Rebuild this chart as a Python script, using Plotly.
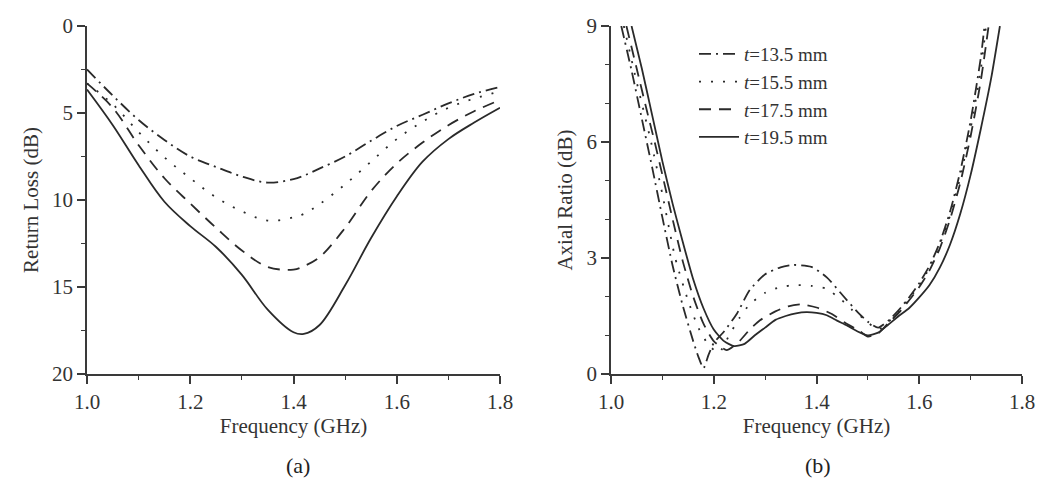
import plotly.graph_objects as go

# ---------------- data: (a) Return loss ----------------
freq_rl = [1.0, 1.05, 1.1, 1.15, 1.2, 1.25, 1.3, 1.35, 1.4, 1.42, 1.45, 1.5, 1.55, 1.6, 1.65, 1.7, 1.75, 1.8]
rl_135 = [2.5, 4.0, 5.4, 6.55, 7.5, 8.1, 8.65, 9.0, 8.8, 8.6, 8.2, 7.5, 6.6, 5.75, 5.1, 4.45, 3.9, 3.5]
rl_155 = [3.3, 4.5, 6.1, 7.55, 8.75, 9.85, 10.65, 11.18, 11.0, 10.8, 10.25, 9.1, 7.8, 6.5, 5.5, 4.7, 4.17, 3.75]
rl_175 = [3.3, 4.7, 6.85, 8.75, 10.2, 11.6, 12.9, 13.85, 14.0, 13.8, 13.3, 11.6, 9.5, 7.9, 6.7, 5.7, 4.9, 4.25]
rl_195 = [3.65, 5.7, 8.0, 10.1, 11.5, 12.7, 14.3, 16.3, 17.6, 17.7, 17.2, 14.9, 12.2, 9.8, 7.8, 6.5, 5.55, 4.7]

# ---------------- data: (b) Axial ratio ----------------
f_ar_135 = [1.02, 1.04, 1.06, 1.08, 1.10, 1.12, 1.14, 1.16, 1.17, 1.18, 1.19, 1.20, 1.22, 1.245, 1.27, 1.30,
            1.33, 1.355, 1.39, 1.42, 1.45, 1.48, 1.50, 1.52, 1.54, 1.56, 1.58, 1.60, 1.62, 1.64, 1.66, 1.68,
            1.70, 1.72, 1.727]
ar_135 = [9.0, 7.85, 6.6, 5.35, 4.05, 2.8, 1.75, 0.85, 0.45, 0.15, 0.5, 0.8, 1.1, 1.56, 2.17, 2.58,
          2.76, 2.82, 2.77, 2.5, 2.05, 1.6, 1.35, 1.2, 1.38, 1.65, 1.98, 2.35, 2.8, 3.4, 4.2, 5.25,
          6.55, 8.2, 9.0]

f_ar_155 = [1.025, 1.05, 1.078, 1.10, 1.125, 1.15, 1.17, 1.19, 1.21, 1.23, 1.25, 1.27, 1.30, 1.33, 1.36,
            1.39, 1.42, 1.45, 1.47, 1.49, 1.52, 1.54, 1.56, 1.58, 1.60, 1.62, 1.64, 1.66, 1.68, 1.70,
            1.72, 1.73]
ar_155 = [9.0, 7.55, 6.0, 4.65, 3.0, 1.9, 1.2, 0.75, 0.55, 1.0, 1.45, 1.8, 2.1, 2.25, 2.3,
          2.28, 2.2, 1.9, 1.65, 1.45, 1.15, 1.35, 1.62, 1.95, 2.3, 2.75, 3.35, 4.1, 5.1, 6.35,
          7.9, 9.0]

f_ar_175 = [1.03, 1.05, 1.07, 1.085, 1.10, 1.12, 1.14, 1.16, 1.18, 1.20, 1.225, 1.25, 1.27, 1.29, 1.32,
            1.345, 1.37, 1.40, 1.43, 1.455, 1.485, 1.50, 1.52, 1.54, 1.56, 1.58, 1.60, 1.62, 1.64,
            1.66, 1.68, 1.70, 1.72, 1.735]
ar_175 = [9.0, 7.9, 6.8, 6.0, 5.15, 4.0, 2.9, 2.0, 1.3, 0.85, 0.62, 0.85, 1.15, 1.39, 1.62,
          1.75, 1.8, 1.72, 1.55, 1.33, 1.1, 0.97, 1.05, 1.32, 1.58, 1.9, 2.25, 2.68, 3.25,
          4.0, 4.95, 6.15, 7.6, 9.0]

f_ar_195 = [1.04, 1.06, 1.08, 1.10, 1.12, 1.14, 1.16, 1.18, 1.20, 1.22, 1.24, 1.26, 1.28, 1.30, 1.32,
            1.34, 1.36, 1.38, 1.40, 1.42, 1.44, 1.46, 1.48, 1.50, 1.52, 1.54, 1.56, 1.58, 1.60,
            1.62, 1.64, 1.66, 1.68, 1.70, 1.72, 1.74, 1.757]
ar_195 = [9.0, 7.9, 6.7, 5.5, 4.4, 3.4, 2.45, 1.7, 1.15, 0.85, 0.72, 0.78, 1.0, 1.2, 1.4,
          1.5, 1.57, 1.6, 1.58, 1.52, 1.38, 1.25, 1.1, 1.0, 1.07, 1.28, 1.5, 1.7, 1.98,
          2.3, 2.75, 3.35, 4.15, 5.15, 6.35, 7.65, 9.0]

legend_labels = ["<i>t</i>=13.5 mm", "<i>t</i>=15.5 mm", "<i>t</i>=17.5 mm", "<i>t</i>=19.5 mm"]

# ---------------- styling ----------------
FONT = "Liberation Serif, Times New Roman, serif"
INK = "#2a2a2a"
AX = "#3a3a3a"
dashes = ["12px,5px,2px,5px", "2px,10px", "12px,8px", "solid"]

fig = go.Figure()

rl_series = [rl_135, rl_155, rl_175, rl_195]
for i, ys in enumerate(rl_series):
    fig.add_trace(go.Scatter(x=freq_rl, y=ys, mode="lines", xaxis="x", yaxis="y",
                             line=dict(color=INK, width=1.8, dash=dashes[i], shape="spline", smoothing=1.0),
                             showlegend=False, hoverinfo="skip"))

ar_series = [(f_ar_135, ar_135), (f_ar_155, ar_155), (f_ar_175, ar_175), (f_ar_195, ar_195)]
for i, (xs, ys) in enumerate(ar_series):
    fig.add_trace(go.Scatter(x=xs, y=ys, mode="lines", xaxis="x2", yaxis="y2", name=legend_labels[i],
                             line=dict(color=INK, width=1.8, dash=dashes[i], shape="spline", smoothing=0.6),
                             showlegend=True, hoverinfo="skip"))

tickfont = dict(family=FONT, size=21, color="#333")
titlefont = dict(family=FONT, size=21, color="#333")

def xax(domain, anchor):
    return dict(domain=domain, anchor=anchor, range=[1.0, 1.8], tick0=1.0, dtick=0.2, tickformat=".1f",
                automargin=False,
                showline=True, linecolor=AX, linewidth=1.6, ticks="outside", ticklen=8, tickwidth=1.6,
                tickcolor=AX, minor=dict(dtick=0.1, ticks="outside", ticklen=4, tickwidth=1.4, tickcolor=AX),
                showgrid=False, zeroline=False, tickfont=tickfont,
                title=dict(text="Frequency (GHz)", font=titlefont, standoff=4))

def yax(domain, anchor, rng, dtick, minor, title):
    return dict(domain=domain, anchor=anchor, range=rng, tick0=0, dtick=dtick,
                automargin=False,
                showline=True, linecolor=AX, linewidth=1.6, ticks="outside", ticklen=8, tickwidth=1.6,
                tickcolor=AX, minor=dict(dtick=minor, ticks="outside", ticklen=4, tickwidth=1.4, tickcolor=AX),
                showgrid=False, zeroline=False, tickfont=tickfont,
                title=dict(text=title, font=titlefont, standoff=8))

ydom = [(482 - 374) / 482, (482 - 26) / 482]
fig.update_layout(
    width=1045, height=482,
    margin=dict(l=0, r=0, t=0, b=0),
    paper_bgcolor="white", plot_bgcolor="white",
    font=dict(family=FONT, color="#333"),
    xaxis=xax([87 / 1045, 500 / 1045], "y"),
    yaxis=yax(ydom, "x", [20, 0], 5, 2.5, "Return Loss (dB)"),
    xaxis2=xax([611 / 1045, 1022 / 1045], "y2"),
    yaxis2=yax(ydom, "x2", [0, 9], 3, 1, "Axial Ratio (dB)"),
    legend=dict(x=694 / 1045, y=(482 - 35) / 482, xanchor="left", yanchor="top",
                bgcolor="rgba(0,0,0,0)", font=dict(family=FONT, size=19, color="#333"),
                tracegroupgap=0, itemwidth=40),
    annotations=[
        dict(text="(a)", x=298 / 1045, y=(482 - 465) / 482, xref="paper", yref="paper",
             xanchor="center", yanchor="middle",
             showarrow=False, font=dict(family=FONT, size=22, color="#222")),
        dict(text="(b)", x=818 / 1045, y=(482 - 465) / 482, xref="paper", yref="paper",
             xanchor="center", yanchor="middle",
             showarrow=False, font=dict(family=FONT, size=22, color="#222")),
    ],
)

fig.write_html("out.html")
